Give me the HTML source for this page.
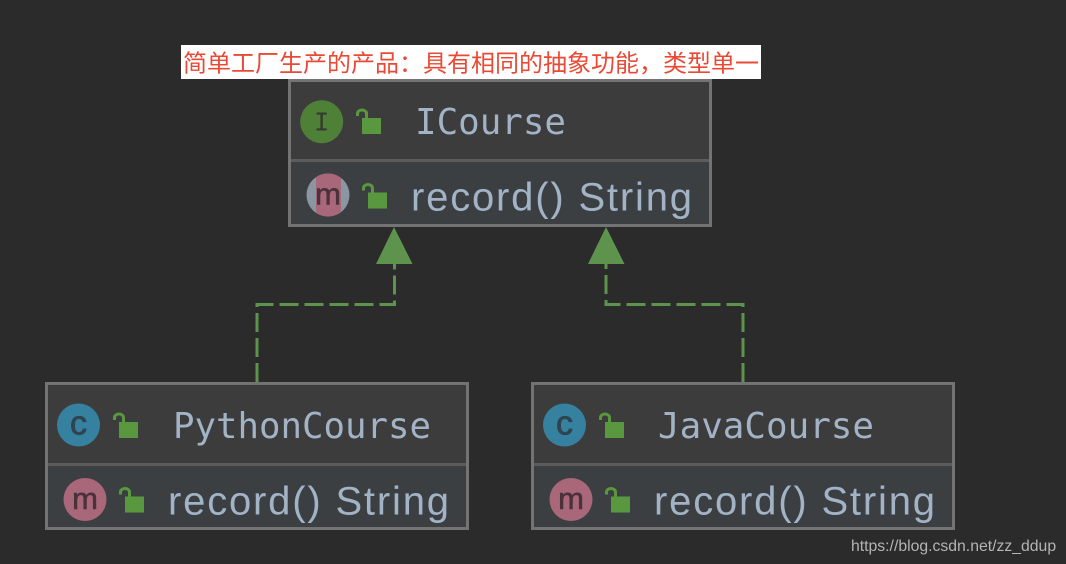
<!DOCTYPE html>
<html><head><meta charset="utf-8"><style>
html,body{margin:0;padding:0;background:#2b2b2b;width:1066px;height:564px;overflow:hidden}
svg{display:block}
.mono{font-family:"DejaVu Sans Mono","Liberation Mono",monospace;font-size:36px;fill:#a3b3c6}
.sans{font-family:"Liberation Sans",sans-serif;font-size:40px;fill:#a3b3c6}
.ic{font-family:"Liberation Sans",sans-serif;text-anchor:middle}
</style></head><body>
<svg width="1066" height="564" viewBox="0 0 1066 564" xmlns="http://www.w3.org/2000/svg">
<defs>
<g id="lock">
<rect x="6" y="9" width="19" height="16" fill="#5a983f"/>
<path d="M1.5 7 V4.500 A4.500 3.500 0 0 1 10.500 4.500 V9" fill="none" stroke="#5a983f" stroke-width="3"/>
</g>
<clipPath id="mclip"><rect x="316" y="170" width="25" height="50"/></clipPath>
</defs>
<rect width="1066" height="564" fill="#2b2b2b"/>

<!-- connectors -->
<path d="M257 382V304.500H394.500V264" fill="none" stroke="#5e934e" stroke-width="3" stroke-dasharray="19 6"/>
<path d="M743 382V304.500H606V264" fill="none" stroke="#5e934e" stroke-width="3" stroke-dasharray="19 6"/>
<polygon points="394,227 412.500,264 376,264" fill="#5e934e"/>
<polygon points="606,227 624.500,264 588,264" fill="#5e934e"/>

<!-- ICourse -->
<rect x="289.500" y="80.500" width="421" height="145" fill="#3c3c3c" stroke="#737373" stroke-width="3"/>
<rect x="291" y="162" width="418" height="62" fill="#3b3f42"/>
<rect x="291" y="159" width="418" height="3" fill="#5c5c5c"/>
<circle cx="321.700" cy="121.700" r="21.500" fill="#4f8037"/>
<text x="321.700" y="130.700" text-anchor="middle" font-family="'DejaVu Sans Mono',monospace" font-size="25" fill="#363b30">I</text>
<use href="#lock" x="356" y="109"/>
<text class="mono" x="415" y="134" textLength="151" lengthAdjust="spacingAndGlyphs">ICourse</text>
<circle cx="328" cy="195" r="21.500" fill="#8a97a3"/>
<circle cx="328" cy="195" r="21.500" fill="#a9677a" clip-path="url(#mclip)"/>
<text class="ic" x="328" y="204.500" font-size="31" fill="#4a3239" stroke="#4a3239" stroke-width=".6">m</text>
<use href="#lock" x="362" y="183.500"/>
<text class="sans" x="411" y="210.500" textLength="281" lengthAdjust="spacing">record() String</text>

<!-- PythonCourse -->
<rect x="46.500" y="383.500" width="421" height="145" fill="#3c3c3c" stroke="#737373" stroke-width="3"/>
<rect x="48" y="466" width="418" height="61" fill="#3b3f42"/>
<rect x="48" y="463" width="418" height="3" fill="#5c5c5c"/>
<circle cx="78.500" cy="425" r="21.500" fill="#36819f"/>
<text class="ic" x="78.500" y="434.500" font-size="34" fill="#2f4450" stroke="#2f4450" stroke-width=".8">c</text>
<use href="#lock" x="113" y="413"/>
<text class="mono" x="173" y="438" textLength="258" lengthAdjust="spacingAndGlyphs">PythonCourse</text>
<circle cx="85" cy="499.500" r="21.500" fill="#a9677a"/>
<text class="ic" x="85" y="509" font-size="31" fill="#4a3239" stroke="#4a3239" stroke-width=".6">m</text>
<use href="#lock" x="119" y="487.500"/>
<text class="sans" x="168" y="514.500" textLength="281" lengthAdjust="spacing">record() String</text>

<!-- JavaCourse -->
<rect x="532.500" y="383.500" width="421" height="145" fill="#3c3c3c" stroke="#737373" stroke-width="3"/>
<rect x="534" y="466" width="418" height="61" fill="#3b3f42"/>
<rect x="534" y="463" width="418" height="3" fill="#5c5c5c"/>
<circle cx="564.500" cy="425" r="21.500" fill="#36819f"/>
<text class="ic" x="564.500" y="434.500" font-size="34" fill="#2f4450" stroke="#2f4450" stroke-width=".8">c</text>
<use href="#lock" x="599" y="413"/>
<text class="mono" x="658" y="438" textLength="216" lengthAdjust="spacingAndGlyphs">JavaCourse</text>
<circle cx="571" cy="499.500" r="21.500" fill="#a9677a"/>
<text class="ic" x="571" y="509" font-size="31" fill="#4a3239" stroke="#4a3239" stroke-width=".6">m</text>
<use href="#lock" x="605" y="487.500"/>
<text class="sans" x="654" y="514.500" textLength="281" lengthAdjust="spacing">record() String</text>

<!-- Note -->
<rect x="181" y="45" width="580" height="34" fill="#ffffff"/>
<text x="183" y="71.500" font-size="24" fill="#ea4a35" textLength="576" font-family="'Liberation Sans','Noto Sans CJK SC',sans-serif">简单工厂生产的产品：具有相同的抽象功能，类型单一</text>

<!-- Watermark -->
<text x="851" y="551" font-size="15.770" fill="#b4b4b4" font-family="'Liberation Sans',sans-serif">https://blog.csdn.net/zz_ddup</text>
</svg>
</body></html>
